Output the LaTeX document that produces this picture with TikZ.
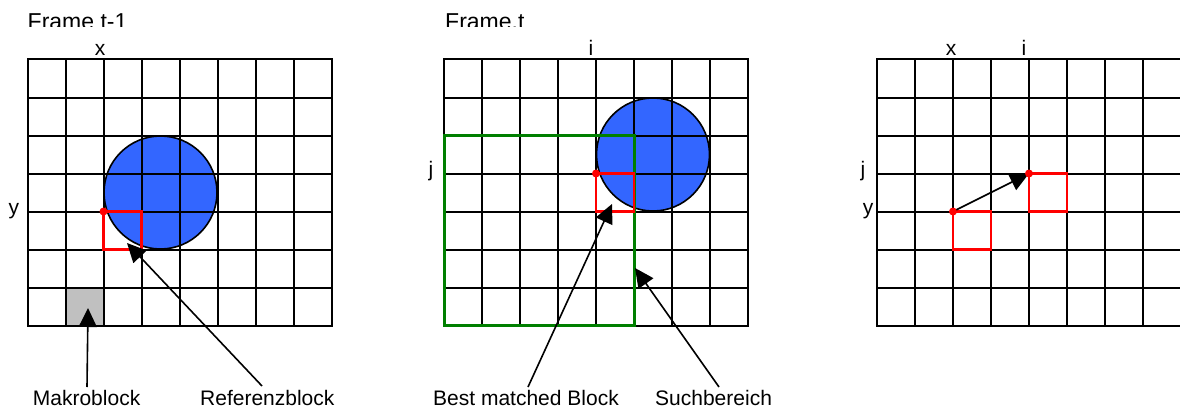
\documentclass[tikz,border=0pt]{standalone}
\usepackage{fontspec}
\setmainfont{Liberation Sans}
\usetikzlibrary{arrows.meta}
\definecolor{blobblue}{HTML}{3366FF}
\definecolor{gridgreen}{HTML}{007F00}
\definecolor{cellgray}{HTML}{C0C0C0}
\newcommand\pixgrid[2]{%
  \foreach \k in {0,...,8} \draw[gridline] ({#1+\k*38},#2) -- ++(0,266);
  \foreach \k in {0,...,7} \draw[gridline] (#1,{#2+\k*38}) -- ++(304,0);
}
\begin{document}
\begin{tikzpicture}[x=1pt,y=-1pt,
  gridline/.style={line width=2pt,black,line cap=rect},
  blob/.style={fill=blobblue,draw=black,line width=1.6pt},
  refbox/.style={draw=red,line width=2.5pt},
  dotmark/.style={fill=red},
  searchbox/.style={draw=gridgreen,line width=3pt},
  lbl/.style={inner sep=0pt,anchor=base,font=\fontsize{21}{25}\selectfont},
  caption/.style={inner sep=0pt,anchor=base west,font=\fontsize{21}{25}\selectfont},
  titletext/.style={inner sep=0pt,anchor=base west,font=\fontsize{23}{27}\selectfont},
  pointer/.style={line width=1.6pt,-{Triangle[length=19pt,width=18pt]}}]
\useasboundingbox (0,0) rectangle (1180,412);

% titles (clipped at bottom as in the reference)
\begin{scope}
  \clip (0,0) rectangle (1180,27);
  \node[titletext] (t1) at (27.5,30) {Frame t-1};
  \node[titletext] (t2) at (445,30) {Frame.t};
\end{scope}

% ---------- Grid 1 ----------
\fill[cellgray] (65.5,287.5) rectangle (103.5,325.5);
\filldraw[blob] (160.5,192.5) circle[radius=56.5pt];
\pixgrid{27.5}{59.5}
\draw[refbox] (103.5,211.5) rectangle (141.5,249.5);
\fill[dotmark] (103.5,211.5) circle[radius=4pt];
\node[lbl] (x1) at (100,56) {x};
\node[lbl] (y1) at (14,214) {y};

% ---------- Grid 2 ----------
\filldraw[blob] (653,154.5) circle[radius=56.5pt];
\pixgrid{444}{59.5}
\draw[searchbox] (444,135.5) rectangle (634,325.5);
\draw[refbox] (596,173.5) rectangle (634,211.5);
\fill[dotmark] (596,173.5) circle[radius=4pt];
\node[lbl] (i2) at (591,56) {i};
\node[lbl] (j2) at (431,176) {j};

% ---------- Grid 3 ----------
\pixgrid{877}{59.5}
\draw[refbox] (953,211.5) rectangle (991,249.5);
\draw[refbox] (1029,173.5) rectangle (1067,211.5);
\coordinate (mvA) at (953,211.5);
\coordinate (mvB) at (1029,173.5);
\draw[pointer] (mvA) -- (mvB);
\fill[dotmark] (mvA) circle[radius=4pt];
\fill[dotmark] (mvB) circle[radius=4pt];
\node[lbl] (x3) at (951,56) {x};
\node[lbl] (i3) at (1024,56) {i};
\node[lbl] (j3) at (863,176) {j};
\node[lbl] (y3) at (868,214) {y};

% ---------- captions and pointers ----------
\node[caption] (mak) at (32.7,405.7) {Makroblock};
\node[caption] (ref) at (200,405.7) {Referenzblock};
\node[caption] (best) at (433,405.7) {Best matched Block};
\node[caption] (such) at (655,405.7) {Suchbereich};

\coordinate (makS) at (87,387);   \coordinate (makT) at (88,308);
\coordinate (refS) at (262,386);  \coordinate (refT) at (127,243);
\coordinate (bestS) at (528,387); \coordinate (bestT) at (612,204);
\coordinate (suchS) at (719,387); \coordinate (suchT) at (635,268);
\draw[pointer] (makS) -- (makT);
\draw[pointer] (refS) -- (refT);
\draw[pointer] (bestS) -- (bestT);
\draw[pointer] (suchS) -- (suchT);
\end{tikzpicture}
\end{document}
